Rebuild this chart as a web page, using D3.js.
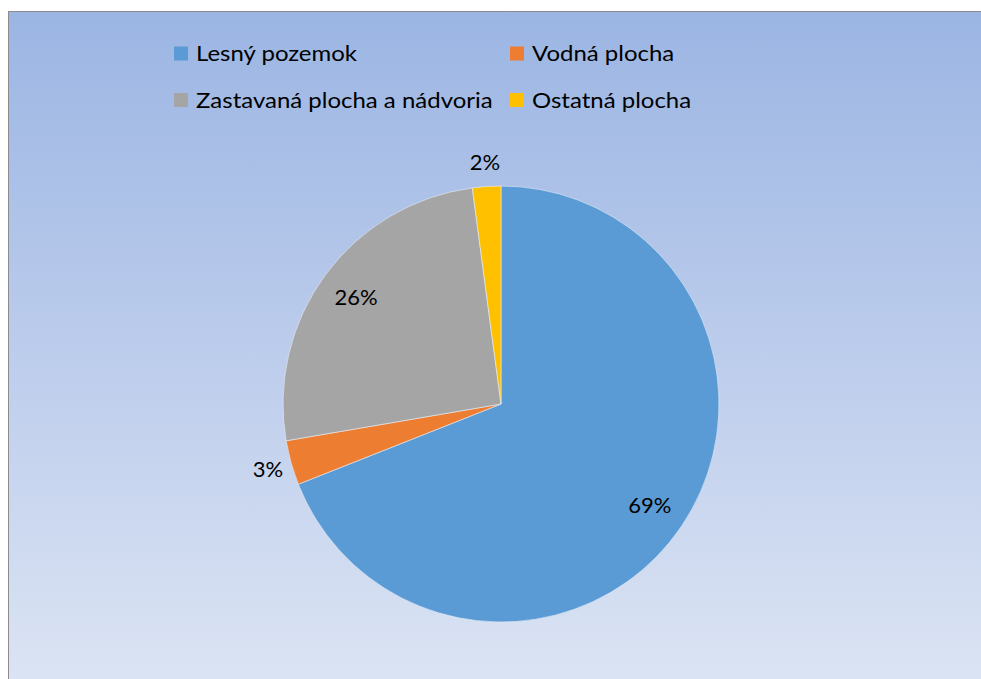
<!DOCTYPE html>
<html><head><meta charset="utf-8">
<script src="https://cdn.jsdelivr.net/npm/d3@7"></script>
<style>html,body{margin:0;padding:0;background:#fff;overflow:hidden}</style>
</head><body>
<svg id="c" width="981" height="679"></svg>
<script>
const categories = ["Lesný pozemok", "Vodná plocha", "Zastavaná plocha a nádvoria", "Ostatná plocha"];
const values = [69.0, 3.3, 25.6, 2.1];
const colors = ["#5b9bd5", "#ed7d31", "#a5a5a5", "#ffc000"];
const labelInside = [true, false, true, false];

const svg = d3.select("#c");
const defs = svg.append("defs");
const grad = defs.append("linearGradient").attr("id","bg").attr("x1",0).attr("y1",0).attr("x2",0).attr("y2",1);
grad.append("stop").attr("offset","0%").attr("stop-color","#9bb5e3");
grad.append("stop").attr("offset","50%").attr("stop-color","#bdcdec");
grad.append("stop").attr("offset","100%").attr("stop-color","#dee6f4");

svg.append("rect").attr("x",8.5).attr("y",11.5).attr("width",1000).attr("height",700)
  .attr("fill","url(#bg)").attr("stroke","#8c8c8c").attr("stroke-width",1);

const font = "Lato, 'Open Sans', sans-serif";
const cx = 501, cy = 404, R = 218;
const pie = d3.pie().sort(null).value(d => d)(values);
const arc = d3.arc().innerRadius(0).outerRadius(R);
const g = svg.append("g").attr("transform", `translate(${cx},${cy})`);
g.selectAll("path").data(pie).join("path")
  .attr("d", arc).attr("fill", (d,i) => colors[i])
  .attr("stroke", "#e8eef8").attr("stroke-width", 0.6);

const total = d3.sum(values);
const inArc = d3.arc().innerRadius(R*0.825).outerRadius(R*0.825);
const outArc = d3.arc().innerRadius(R+24).outerRadius(R+24);
g.selectAll("text.lbl").data(pie).join("text").attr("class","lbl")
  .attr("transform", (d,i) => `translate(${(labelInside[i] ? inArc : outArc).centroid(d)})`)
  .attr("text-anchor","middle").attr("dy","0.35em")
  .attr("font-family", font).attr("font-size", 22).attr("fill","#000")
  .text(d => Math.round(d.value/total*100) + "%");

// legend
const legX = [174, 510], legY = [53.5, 100];
const leg = svg.append("g");
categories.forEach((c,i) => {
  const x = legX[i%2], y = legY[Math.floor(i/2)];
  leg.append("rect").attr("x", x).attr("y", y-7).attr("width",14).attr("height",14).attr("fill", colors[i]);
  leg.append("text").attr("transform", `translate(${x+22},${y}) scale(1.09,1)`).attr("dy","0.35em")
    .attr("font-family", font).attr("font-size", 22).attr("fill","#000").text(c);
});
</script>
</body></html>
